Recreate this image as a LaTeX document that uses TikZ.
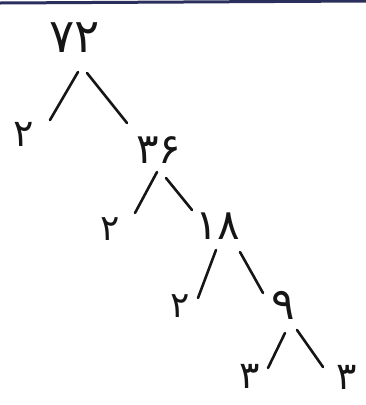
\documentclass[tikz,border=0pt]{standalone}
\usepackage{fontspec}
\newfontfamily\fafont[Script=Arabic]{DejaVu Sans}
\definecolor{ink}{HTML}{151515}
\definecolor{rulecol}{HTML}{2B2F5C}
\begin{document}
\begin{tikzpicture}[x=1pt,y=-1pt,
  num/.style={font=\fafont\fontsize{#1}{#1}\selectfont, text=ink, inner sep=0pt},
  branch/.style={draw=ink, line width=2.6pt, line cap=round}]
\useasboundingbox (0,0) rectangle (366,405);
\coordinate (tl) at (0,3);
\coordinate (tr) at (366,1);
\draw[rulecol, line width=3pt] (tl) -- (tr);
% numbers
\node[num=47] (n72) at (75,38) {۷۲};
\node[num=38] (n2a) at (24,134) {۲};
\node[num=42] (n36) at (159,150) {۳۶};
\node[num=36] (n2b) at (110,229) {۲};
\node[num=42] (n18) at (218,226) {۱۸};
\node[num=36] (n2c) at (180,306) {۲};
\node[num=44] (n9) at (283,305) {۹};
\node[num=38] (n3a) at (250,376) {۳};
\node[num=38] (n3b) at (347,377) {۳};
% branch ends
\coordinate (a1) at (78,72);   \coordinate (b1) at (50,120);
\coordinate (a2) at (87,73);   \coordinate (b2) at (127,123);
\coordinate (a3) at (157,172); \coordinate (b3) at (135,213);
\coordinate (a4) at (166,178); \coordinate (b4) at (192,210);
\coordinate (a5) at (216,250); \coordinate (b5) at (198,298);
\coordinate (a6) at (240,252); \coordinate (b6) at (263,293);
\coordinate (a7) at (285,333); \coordinate (b7) at (268,368);
\coordinate (a8) at (297,330); \coordinate (b8) at (323,367);
\foreach \i in {1,...,8} { \draw[branch] (a\i) -- (b\i); }
\end{tikzpicture}
\end{document}
